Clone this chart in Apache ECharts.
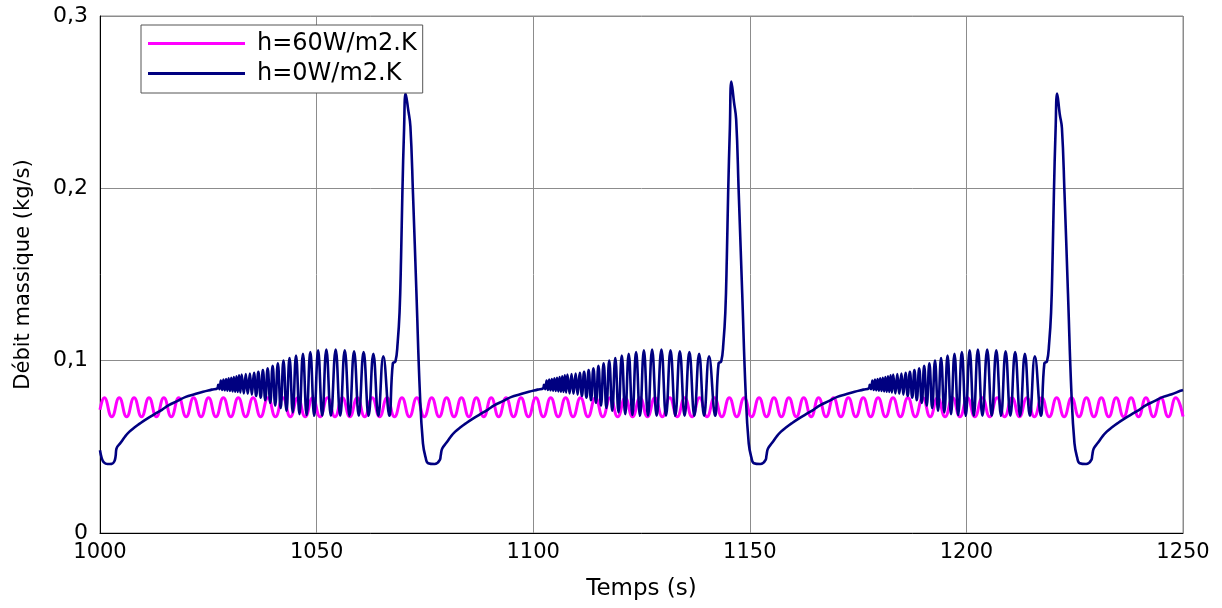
<!DOCTYPE html>
<html>
<head>
<meta charset="utf-8">
<script src="https://cdn.jsdelivr.net/npm/echarts@6/dist/echarts.min.js"></script>
<style>
html,body{margin:0;padding:0;background:#fff;}
#chart{width:1222px;height:608px;}
</style>
</head>
<body>
<div id="chart"></div>
<script>
// ---- Axis ticks ----
const xTicks = [1000, 1050, 1100, 1150, 1200, 1250];
const yTicks = [0, 0.1, 0.2, 0.3];
const seriesNames = ['h=60W/m2.K', 'h=0W/m2.K'];

// ---- h=60W/m2.K (magenta): peaks and troughs ----
const magenta = [
[1000.0,0.0715],[1001.00,0.0785],[1002.72,0.0675],[1004.44,0.0785],[1006.15,0.0675],[1007.87,0.0785],[1009.59,0.0675],
[1011.31,0.0785],[1013.02,0.0675],[1014.74,0.0785],[1016.46,0.0675],[1018.18,0.0785],[1019.89,0.0675],[1021.61,0.0785],
[1023.33,0.0675],[1025.05,0.0785],[1026.76,0.0675],[1028.48,0.0785],[1030.20,0.0675],[1031.92,0.0785],[1033.63,0.0675],
[1035.35,0.0785],[1037.07,0.0675],[1038.79,0.0785],[1040.50,0.0675],[1042.22,0.0785],[1043.94,0.0675],[1045.66,0.0785],
[1047.37,0.0675],[1049.09,0.0785],[1050.81,0.0675],[1052.53,0.0785],[1054.24,0.0675],[1055.96,0.0785],[1057.68,0.0675],
[1059.40,0.0785],[1061.11,0.0675],[1062.83,0.0785],[1064.55,0.0675],[1066.27,0.0785],[1067.98,0.0675],[1069.70,0.0785],
[1071.42,0.0675],[1073.14,0.0785],[1074.85,0.0675],[1076.57,0.0785],[1078.29,0.0675],[1080.01,0.0785],[1081.72,0.0675],
[1083.44,0.0785],[1085.16,0.0675],[1086.88,0.0785],[1088.59,0.0675],[1090.31,0.0785],[1092.03,0.0675],[1093.75,0.0785],
[1095.46,0.0675],[1097.18,0.0785],[1098.90,0.0675],[1100.62,0.0785],[1102.33,0.0675],[1104.05,0.0785],[1105.77,0.0675],
[1107.49,0.0785],[1109.20,0.0675],[1110.92,0.0785],[1112.64,0.0675],[1114.36,0.0785],[1116.07,0.0675],[1117.79,0.0785],
[1119.51,0.0675],[1121.23,0.0785],[1122.94,0.0675],[1124.66,0.0785],[1126.38,0.0675],[1128.10,0.0785],[1129.81,0.0675],
[1131.53,0.0785],[1133.25,0.0675],[1134.97,0.0785],[1136.68,0.0675],[1138.40,0.0785],[1140.12,0.0675],[1141.84,0.0785],
[1143.55,0.0675],[1145.27,0.0785],[1146.99,0.0675],[1148.71,0.0785],[1150.42,0.0675],[1152.14,0.0785],[1153.86,0.0675],
[1155.58,0.0785],[1157.29,0.0675],[1159.01,0.0785],[1160.73,0.0675],[1162.45,0.0785],[1164.16,0.0675],[1165.88,0.0785],
[1167.60,0.0675],[1169.32,0.0785],[1171.03,0.0675],[1172.75,0.0785],[1174.47,0.0675],[1176.19,0.0785],[1177.90,0.0675],
[1179.62,0.0785],[1181.34,0.0675],[1183.06,0.0785],[1184.77,0.0675],[1186.49,0.0785],[1188.21,0.0675],[1189.93,0.0785],
[1191.64,0.0675],[1193.36,0.0785],[1195.08,0.0675],[1196.80,0.0785],[1198.51,0.0675],[1200.23,0.0785],[1201.95,0.0675],
[1203.67,0.0785],[1205.38,0.0675],[1207.10,0.0785],[1208.82,0.0675],[1210.54,0.0785],[1212.25,0.0675],[1213.97,0.0785],
[1215.69,0.0675],[1217.41,0.0785],[1219.12,0.0675],[1220.84,0.0785],[1222.56,0.0675],[1224.28,0.0785],[1225.99,0.0675],
[1227.71,0.0785],[1229.43,0.0675],[1231.15,0.0785],[1232.86,0.0675],[1234.58,0.0785],[1236.30,0.0675],[1238.02,0.0785],
[1239.73,0.0675],[1241.45,0.0785],[1243.17,0.0675],[1244.89,0.0785],[1246.60,0.0675],[1248.32,0.0785],[1250.0,0.0676]
];

// ---- h=0W/m2.K (navy), segment by segment ----
const navyStart = [
[1000.0,0.048],[1000.4,0.0435],[1000.9,0.041],[1001.7,0.0400],[1002.7,0.0401],[1003.3,0.0415],[1003.6,0.0445]
];
const navyCycle1 = [
[1003.8,0.049],[1004.8,0.0525],[1005.8,0.056],[1006.8,0.0588],[1008.1,0.0615],[1009.3,0.0637],[1010.8,0.0662],
[1012.5,0.0688],[1014.3,0.0715],[1015.8,0.074],[1017.8,0.0765],[1019.8,0.079],[1021.8,0.0805],[1023.8,0.082],
[1025.8,0.0832],[1027.1,0.084],[1027.3,0.086],[1027.6,0.0835],
[1027.9,0.0885],[1028.2,0.083],[1028.5,0.089],[1028.8,0.0828],[1029.1,0.0893],[1029.4,0.0826],[1029.7,0.0897],
[1030.0,0.0824],[1030.3,0.090],[1030.6,0.0822],[1030.9,0.0905],[1031.2,0.082],[1031.5,0.091],[1031.8,0.0818],
[1032.1,0.0915],[1032.4,0.0815],
[1032.7,0.092],[1033.2,0.081],[1033.65,0.0922],[1034.1,0.0808],[1034.6,0.0925],[1035.05,0.0803],[1035.55,0.093],
[1036.05,0.0795],[1036.55,0.0935],[1037.1,0.0785],[1037.6,0.0945],[1038.15,0.077],[1038.7,0.0955],[1039.3,0.0755],
[1039.85,0.097],[1040.45,0.074],[1041.05,0.0985],[1041.7,0.0725],[1042.35,0.100],[1043.05,0.071],[1043.75,0.1015],
[1044.5,0.070],[1045.25,0.103],[1046.05,0.069],[1046.85,0.104],[1047.7,0.0685],[1048.55,0.105],[1049.45,0.068],
[1050.35,0.106],[1051.3,0.068],[1052.25,0.1065],[1053.3,0.068],[1054.4,0.1065],[1055.45,0.068],[1056.5,0.106],
[1057.6,0.068],[1058.65,0.1055],[1059.75,0.068],[1060.85,0.105],[1062.0,0.068],[1063.1,0.104],[1064.25,0.068],
[1065.4,0.1025],[1066.8,0.068],[1067.6,0.0985],[1068.2,0.0995],[1068.7,0.110],[1069.15,0.128],[1069.5,0.160],
[1069.8,0.197],[1070.2,0.235],[1070.55,0.255],[1071.15,0.2455],[1071.65,0.236],[1072.25,0.197],[1073.05,0.139],
[1073.85,0.081],[1074.55,0.052],[1075.15,0.044],[1075.75,0.0405],[1077.25,0.040],[1078.45,0.0424],[1078.65,0.045]
];
const navyCycle2 = [
[1079.0,0.049],[1080.0,0.0525],[1081.0,0.056],[1082.0,0.0588],[1083.3,0.0615],[1084.5,0.0637],[1086.0,0.0662],
[1087.7,0.0688],[1089.5,0.0715],[1091.0,0.074],[1093.0,0.0765],[1095.0,0.079],[1097.0,0.0805],[1099.0,0.082],
[1101.0,0.0832],[1102.3,0.084],[1102.5,0.086],[1102.8,0.0835],
[1103.1,0.0885],[1103.4,0.083],[1103.7,0.089],[1104.0,0.0828],[1104.3,0.0893],[1104.6,0.0826],[1104.9,0.0897],
[1105.2,0.0824],[1105.5,0.090],[1105.8,0.0822],[1106.1,0.0905],[1106.4,0.082],[1106.7,0.091],[1107.0,0.0818],
[1107.3,0.0915],[1107.6,0.0815],
[1107.9,0.092],[1108.4,0.081],[1108.85,0.0922],[1109.3,0.0808],[1109.8,0.0925],[1110.25,0.0803],[1110.75,0.093],
[1111.25,0.0795],[1111.75,0.0935],[1112.3,0.0785],[1112.8,0.0945],[1113.35,0.077],[1113.9,0.0955],[1114.5,0.0755],
[1115.05,0.097],[1115.65,0.074],[1116.25,0.0985],[1116.9,0.0725],[1117.55,0.100],[1118.25,0.071],[1118.95,0.1015],
[1119.7,0.070],[1120.45,0.103],[1121.25,0.069],[1122.05,0.104],[1122.9,0.0685],[1123.75,0.105],[1124.65,0.068],
[1125.55,0.106],[1126.5,0.068],[1127.45,0.1065],[1128.5,0.068],[1129.6,0.1065],[1130.65,0.068],[1131.7,0.106],
[1132.8,0.068],[1133.85,0.1055],[1134.95,0.068],[1136.05,0.105],[1137.2,0.068],[1138.3,0.104],[1139.45,0.068],
[1140.6,0.1025],[1142.0,0.068],[1142.8,0.0985],[1143.4,0.0995],[1143.9,0.110],[1144.35,0.128],[1144.7,0.160],
[1145.0,0.197],[1145.4,0.235],[1145.75,0.262],[1146.35,0.250],[1146.85,0.240],[1147.45,0.197],[1148.25,0.139],
[1149.05,0.081],[1149.75,0.052],[1150.35,0.044],[1150.95,0.0405],[1152.45,0.040],[1153.65,0.0424],[1153.85,0.045]
];
const navyCycle3 = [
[1154.2,0.049],[1155.2,0.0525],[1156.2,0.056],[1157.2,0.0588],[1158.5,0.0615],[1159.7,0.0637],[1161.2,0.0662],
[1162.9,0.0688],[1164.7,0.0715],[1166.2,0.074],[1168.2,0.0765],[1170.2,0.079],[1172.2,0.0805],[1174.2,0.082],
[1176.2,0.0832],[1177.5,0.084],[1177.7,0.086],[1178.0,0.0835],
[1178.3,0.0885],[1178.6,0.083],[1178.9,0.089],[1179.2,0.0828],[1179.5,0.0893],[1179.8,0.0826],[1180.1,0.0897],
[1180.4,0.0824],[1180.7,0.090],[1181.0,0.0822],[1181.3,0.0905],[1181.6,0.082],[1181.9,0.091],[1182.2,0.0818],
[1182.5,0.0915],[1182.8,0.0815],
[1183.1,0.092],[1183.6,0.081],[1184.05,0.0922],[1184.5,0.0808],[1185.0,0.0925],[1185.45,0.0803],[1185.95,0.093],
[1186.45,0.0795],[1186.95,0.0935],[1187.5,0.0785],[1188.0,0.0945],[1188.55,0.077],[1189.1,0.0955],[1189.7,0.0755],
[1190.25,0.097],[1190.85,0.074],[1191.45,0.0985],[1192.1,0.0725],[1192.75,0.100],[1193.45,0.071],[1194.15,0.1015],
[1194.9,0.070],[1195.65,0.103],[1196.45,0.069],[1197.25,0.104],[1198.1,0.0685],[1198.95,0.105],[1199.85,0.068],
[1200.75,0.106],[1201.7,0.068],[1202.65,0.1065],[1203.7,0.068],[1204.8,0.1065],[1205.85,0.068],[1206.9,0.106],
[1208.0,0.068],[1209.05,0.1055],[1210.15,0.068],[1211.25,0.105],[1212.4,0.068],[1213.5,0.104],[1214.65,0.068],
[1215.8,0.1025],[1217.2,0.068],[1218.0,0.0985],[1218.6,0.0995],[1219.1,0.110],[1219.55,0.128],[1219.9,0.160],
[1220.2,0.197],[1220.6,0.235],[1220.95,0.255],[1221.55,0.243],[1222.05,0.235],[1222.65,0.197],[1223.45,0.139],
[1224.25,0.081],[1224.95,0.052],[1225.55,0.044],[1226.15,0.0405],[1227.65,0.040],[1228.85,0.0424],[1229.05,0.045]
];
const navyEnd = [
[1229.4,0.049],[1230.4,0.0525],[1231.4,0.056],[1232.4,0.0588],[1233.7,0.0615],[1234.9,0.0637],[1236.4,0.0662],
[1238.1,0.0688],[1239.9,0.0715],[1241.4,0.074],[1243.4,0.0765],[1245.4,0.079],[1247.4,0.0805],[1249.4,0.0825],
[1250.0,0.083]
];

const navy = [].concat(navyStart, navyCycle1, navyCycle2, navyCycle3, navyEnd);

const FONT = 'DejaVu Sans';
const chart = echarts.init(document.getElementById('chart'), null, {renderer: 'canvas'});
chart.setOption({
  animation: false,
  backgroundColor: '#ffffff',
  grid: {
    left: 100, right: 39, top: 16, bottom: 75,
    show: true, borderColor: '#8c8c8c', borderWidth: 1, backgroundColor: 'transparent'
  },
  legend: {
    data: seriesNames,
    orient: 'vertical',
    left: 141, top: 25,
    padding: [5, 6, 6, 7],
    itemGap: 3,
    itemWidth: 97, itemHeight: 3,
    icon: 'rect',
    backgroundColor: '#ffffff',
    borderColor: '#555555', borderWidth: 1,
    textStyle: {fontFamily: FONT, fontSize: 24, color: '#000', lineHeight: 27, padding: [0, 0, 0, 7]}
  },
  xAxis: {
    type: 'value',
    min: xTicks[0], max: xTicks[xTicks.length - 1], interval: 50,
    name: 'Temps (s)', nameLocation: 'middle', nameGap: 45,
    nameTextStyle: {fontFamily: FONT, fontSize: 23, color: '#000'},
    axisLine: {show: true, lineStyle: {color: '#000', width: 1}},
    axisTick: {show: false},
    axisLabel: {fontFamily: FONT, fontSize: 21, color: '#000', margin: 9,
      formatter: function (v) { return String(v); }},
    splitLine: {show: true, lineStyle: {color: '#8c8c8c', width: 1}}
  },
  yAxis: {
    type: 'value',
    min: yTicks[0], max: yTicks[yTicks.length - 1], interval: 0.1,
    name: 'Débit massique (kg/s)', nameLocation: 'middle', nameGap: 66, nameRotate: 90,
    nameTextStyle: {fontFamily: FONT, fontSize: 21, color: '#000'},
    axisLine: {show: true, lineStyle: {color: '#000', width: 1}},
    axisTick: {show: false},
    axisLabel: {
      fontFamily: FONT, fontSize: 22, color: '#000', margin: 12,
      formatter: function (v) { return v === 0 ? '0' : v.toFixed(1).replace('.', ','); }
    },
    splitLine: {show: true, lineStyle: {color: '#8c8c8c', width: 1}}
  },
  series: [
    {
      name: seriesNames[0], type: 'line', data: magenta,
      showSymbol: false, symbol: 'none', smooth: 0.5,
      lineStyle: {color: '#ff00ff', width: 3},
      itemStyle: {color: '#ff00ff'}, z: 2
    },
    {
      name: seriesNames[1], type: 'line', data: navy,
      showSymbol: false, symbol: 'none', smooth: 0.45,
      lineStyle: {color: '#000080', width: 2.6},
      itemStyle: {color: '#000080'}, z: 3
    }
  ]
});
</script>
</body>
</html>
